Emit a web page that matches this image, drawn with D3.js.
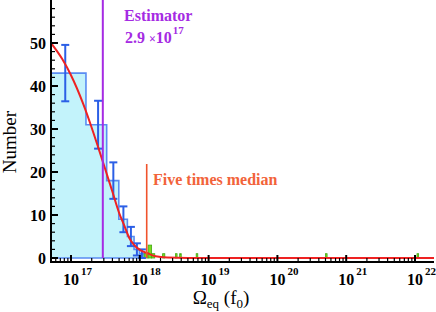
<!DOCTYPE html>
<html><head><meta charset="utf-8">
<script src="https://cdn.jsdelivr.net/npm/d3@7"></script>
<style>
body{margin:0;background:#fff}
svg{display:block}
text{font-family:"Liberation Serif","Times New Roman",serif}
</style>
</head><body>
<svg id="c" width="436" height="312"></svg>
<script>
// ---- data (values in units of 1e17 f0) ----
const UNIT = 1e17;
const binWidth = 1.65;
const blueStarts = [0, 1.65, 3.3, 4.95, 6.6, 8.25, 9.9];
const blueCounts = [43, 31, 18, 9, 5, 2, 1];
const greenStarts = [11.55, 13.2, 14.85, 21.45, 33.0, 37.95, 66.0, 5000, 107000];
const greenCounts = [1, 3, 1, 1, 1, 1, 1, 1, 1];
const fitX = [0.5, 0.75, 1.0, 1.5, 2.0, 2.5, 3.0, 4.0, 5.0, 6.0, 7.0, 8.0, 10, 13, 17, 25, 50, 1000, 200000];
const fitY = [50.2, 46.2, 42.5, 35.9, 30.3, 25.6, 21.7, 15.4, 10.5, 7.4, 4.7, 3.3, 1.9, 1.1, 0.4, 0.1, 0, 0, 0];
const estimator = 2.9;
const fiveMedian = 12.6;
const yMajor = [0, 10, 20, 30, 40, 50];
const yMinor = [2,4,6,8,12,14,16,18,22,24,26,28,32,34,36,38,42,44,46,48,52,54,56,58];
const xDecades = [17, 18, 19, 20, 21, 22];

// ---- layout ----
const L = 51, R = 434, AX = 262;
const x = d3.scaleLog().domain([1e17, 1e22]).range([71, 415]);
const y = d3.scaleLinear().domain([0, 60]).range([258, 0]);
const xmin = x.invert(L);
const X = v => x(Math.max(v * UNIT, xmin));

const svg = d3.select("#c");
svg.append("defs").append("clipPath").attr("id", "clip")
  .append("rect").attr("x", L).attr("y", 0).attr("width", R - L).attr("height", AX);
const g = svg.append("g").attr("clip-path", "url(#clip)");

// blue histogram (step outline)
let pts = [[X(blueStarts[0]), y(0)]];
blueStarts.forEach((s, i) => {
  pts.push([X(s), y(blueCounts[i])]);
  pts.push([X(s + binWidth), y(blueCounts[i])]);
});
pts.push([X(blueStarts[blueStarts.length - 1] + binWidth), y(0)]);
const line = d3.line();
g.append("path").attr("d", line(pts) + "Z").attr("fill", "#c3f3fb").attr("stroke", "none");
g.append("path").attr("d", line(pts) + "Z").attr("fill", "none")
  .attr("stroke", "#5a8cf2").attr("stroke-width", 1.6);

// green histogram
g.selectAll("rect.gr").data(greenStarts).join("rect").attr("class", "gr")
  .attr("x", d => X(d))
  .attr("width", d => Math.max(1.6, X(d + binWidth) - X(d)))
  .attr("y", (d, i) => y(greenCounts[i]))
  .attr("height", (d, i) => y(0) - y(greenCounts[i]))
  .attr("fill", "#7bdc1e").attr("stroke", "#3fa812").attr("stroke-width", 0.8);

// error bars
blueStarts.forEach((s, i) => {
  const cx = X(s + binWidth / 2), n = blueCounts[i], e = Math.sqrt(n);
  const y1 = y(n + e), y2 = y(Math.max(0, n - e));
  const eb = g.append("g").attr("stroke", "#2b5fe6").attr("stroke-width", 2);
  eb.append("line").attr("x1", cx).attr("x2", cx).attr("y1", y1).attr("y2", y2);
  eb.append("line").attr("x1", cx - 4).attr("x2", cx + 4).attr("y1", y1).attr("y2", y1);
  eb.append("line").attr("x1", cx - 4).attr("x2", cx + 4).attr("y1", y2).attr("y2", y2);
});

// fit curve
const fit = d3.line().x(d => x(d[0] * UNIT)).y(d => y(d[1])).curve(d3.curveMonotoneX);
g.append("path").attr("d", fit(fitX.map((v, i) => [v, fitY[i]])))
  .attr("fill", "none").attr("stroke", "#ee2222").attr("stroke-width", 2);

// estimator line
svg.append("line").attr("x1", x(estimator * UNIT)).attr("x2", x(estimator * UNIT))
  .attr("y1", 0).attr("y2", y(0)).attr("stroke", "#a52be3").attr("stroke-width", 2);
// five times median line
svg.append("line").attr("x1", x(fiveMedian * UNIT)).attr("x2", x(fiveMedian * UNIT))
  .attr("y1", 164).attr("y2", y(0)).attr("stroke", "#f0532c").attr("stroke-width", 1.6);

// annotations
const est = svg.append("g").attr("fill", "#a52be3").attr("font-weight", "bold");
est.append("text").attr("x", 124).attr("y", 21).attr("font-size", 16).text("Estimator");
const t2 = est.append("text").attr("x", 125).attr("y", 43).attr("font-size", 16);
t2.append("tspan").text("2.9 ");
t2.append("tspan").attr("font-size", 12).text("\u00d7");
t2.append("tspan").text("10");
t2.append("tspan").attr("font-size", 11).attr("dy", -9).attr("dx", 1).text("17");
svg.append("text").attr("x", 153).attr("y", 185).attr("font-size", 16)
  .attr("font-weight", "bold").attr("fill", "#f2633a").text("Five times median");

// axes
const ax = svg.append("g").attr("stroke", "#000");
ax.append("line").attr("x1", L).attr("x2", L).attr("y1", 0).attr("y2", AX + 1).attr("stroke-width", 2);
ax.append("line").attr("x1", L - 1).attr("x2", R).attr("y1", AX).attr("y2", AX).attr("stroke-width", 2);
yMajor.forEach(v => ax.append("line").attr("x1", L).attr("x2", L + 7).attr("y1", y(v)).attr("y2", y(v)).attr("stroke-width", 2));
yMinor.forEach(v => ax.append("line").attr("x1", L).attr("x2", L + 4).attr("y1", y(v)).attr("y2", y(v)).attr("stroke-width", 1.2));
xDecades.forEach(e => {
  const px = x(Math.pow(10, e));
  ax.append("line").attr("x1", px).attr("x2", px).attr("y1", AX - 7).attr("y2", AX + 1).attr("stroke-width", 2);
});
for (let e = 16; e <= 22; e++) for (let k = 2; k <= 9; k++) {
  const v = k * Math.pow(10, e);
  if (v < xmin || x(v) > R) continue;
  ax.append("line").attr("x1", x(v)).attr("x2", x(v)).attr("y1", AX - 4).attr("y2", AX + 1).attr("stroke-width", 1.2);
}

// tick labels
svg.append("g").selectAll("text").data(yMajor).join("text")
  .attr("x", 46).attr("y", d => y(d) + 6).attr("text-anchor", "end")
  .attr("font-size", 16).attr("font-weight", "bold").text(d => d);
xDecades.forEach(e => {
  const px = x(Math.pow(10, e));
  const t = svg.append("text").attr("x", px - 8).attr("y", 285).attr("font-size", 16).attr("font-weight", "bold");
  t.append("tspan").text("10");
  t.append("tspan").attr("font-size", 11).attr("dy", -10).attr("dx", 2).text(e);
});

// axis titles
svg.append("text").attr("transform", "translate(16,142) rotate(-90)").attr("text-anchor", "middle")
  .attr("font-size", 19).text("Number");
const xt = svg.append("text").attr("x", 221).attr("y", 304).attr("text-anchor", "middle").attr("font-size", 19);
xt.append("tspan").text("\u03a9");
xt.append("tspan").attr("font-size", 13).attr("dy", 4).text("eq");
xt.append("tspan").attr("dy", -4).text(" (f");
xt.append("tspan").attr("font-size", 13).attr("dy", 4).text("0");
xt.append("tspan").attr("dy", -4).text(")");
</script>
</body></html>
